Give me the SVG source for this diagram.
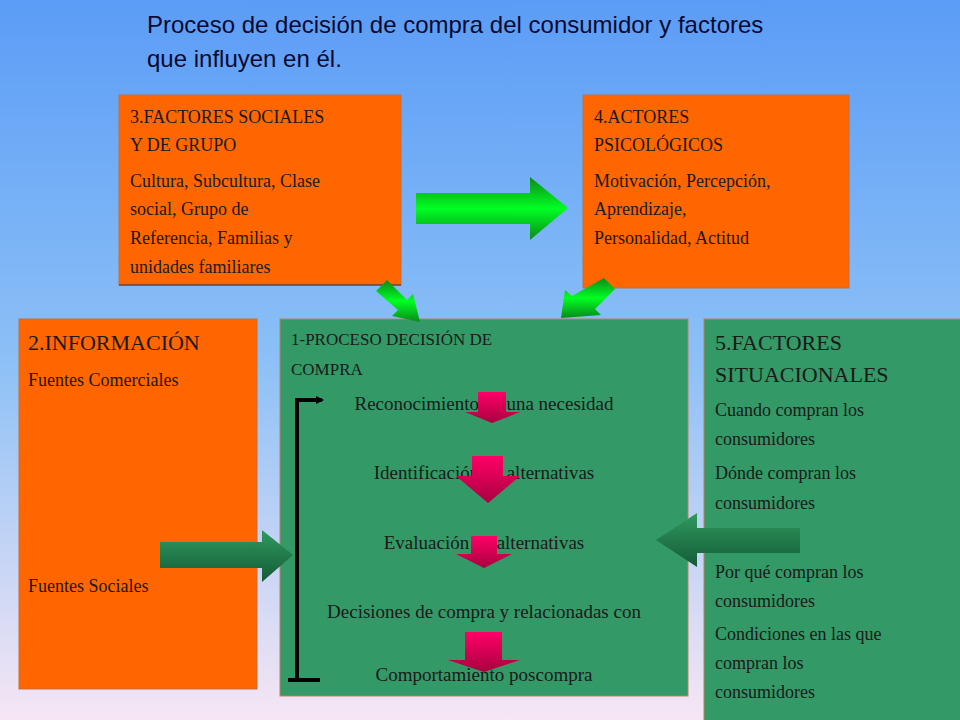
<svg xmlns="http://www.w3.org/2000/svg" width="960" height="720" viewBox="0 0 960 720">
<defs>
<linearGradient id="bg" x1="0" y1="0" x2="0" y2="1"><stop offset="0" stop-color="#5b9cf6"/><stop offset="0.5" stop-color="#8cc0f6"/><stop offset="1" stop-color="#f6e6f4"/></linearGradient>
<linearGradient id="gr" x1="0" y1="0" x2="0" y2="1"><stop offset="0" stop-color="#0a8a1a"/><stop offset="0.5" stop-color="#00ff22"/><stop offset="1" stop-color="#0a8a1a"/></linearGradient>
<linearGradient id="dg" x1="0" y1="0" x2="0" y2="1"><stop offset="0" stop-color="#2f9a5e"/><stop offset="1" stop-color="#145a38"/></linearGradient>
<linearGradient id="pk" x1="0" y1="0" x2="0" y2="1"><stop offset="0" stop-color="#ff0066"/><stop offset="1" stop-color="#a8003f"/></linearGradient>
<marker id="ah" markerWidth="8" markerHeight="8" refX="6" refY="4" orient="auto" markerUnits="userSpaceOnUse"><path d="M0,0 L8,4 L0,8 Z" fill="#000"/></marker>
<style>
.o{fill:#ff6600;stroke:#c07040;stroke-width:1}
.g{fill:#339966;stroke:#c08060;stroke-width:1}
text{font-family:"Liberation Serif",serif;fill:#1a1a1a}
.s{font-size:18px}
.b{font-size:22px}
.c{font-size:19px;text-anchor:middle}
</style>
</defs>
<rect width="960" height="720" fill="url(#bg)"/>
<g id="title"><text x="147" y="33" style="font-family:'Liberation Sans',sans-serif;font-size:24px;fill:#0a0a30">Proceso de decisión de compra del consumidor y factores</text><text x="147" y="67" style="font-family:'Liberation Sans',sans-serif;font-size:24px;fill:#0a0a30">que influyen en él.</text></g>
<g id="n3"><rect class="o" x="119" y="95" width="282" height="190"/><line x1="119" y1="285" x2="401" y2="285" stroke="#333"/>
<text class="s" x="130" y="123">3.FACTORES SOCIALES</text><text class="s" x="130" y="151">Y DE GRUPO</text><text class="s" x="130" y="187">Cultura, Subcultura, Clase</text><text class="s" x="130" y="215">social, Grupo de</text><text class="s" x="130" y="244">Referencia, Familias y</text><text class="s" x="130" y="273">unidades familiares</text></g>
<g id="n4"><rect class="o" x="583" y="95" width="266" height="193"/>
<text class="s" x="594" y="123">4.ACTORES</text><text class="s" x="594" y="151">PSICOLÓGICOS</text><text class="s" x="594" y="187">Motivación, Percepción,</text><text class="s" x="594" y="215">Aprendizaje,</text><text class="s" x="594" y="244">Personalidad, Actitud</text></g>
<g id="n2"><rect class="o" x="19" y="319" width="238" height="370"/>
<text class="b" x="28" y="350">2.INFORMACIÓN</text><text class="s" x="28" y="386">Fuentes Comerciales</text><text class="s" x="28" y="592">Fuentes Sociales</text></g>
<g id="n1"><rect class="g" x="280" y="319" width="408" height="377"/>
<text x="291" y="345" style="font-size:17px">1-PROCESO DECISIÓN DE</text><text x="291" y="375" style="font-size:17px">COMPRA</text>
<text class="c" x="484" y="410">Reconocimiento de una necesidad</text>
<text class="c" x="484" y="479">Identificación de alternativas</text>
<text class="c" x="484" y="549">Evaluación de alternativas</text>
<text class="c" x="484" y="618">Decisiones de compra y relacionadas con</text>
<text class="c" x="484" y="646">ellos</text>
<text class="c" x="484" y="681">Comportamiento poscompra</text></g>
<g id="n5"><rect class="g" x="704" y="319" width="260" height="405"/>
<text class="b" x="715" y="350">5.FACTORES</text><text class="b" x="715" y="382">SITUACIONALES</text>
<text class="s" x="715" y="416">Cuando compran los</text><text class="s" x="715" y="445">consumidores</text>
<text class="s" x="715" y="479"> Dónde compran los</text><text class="s" x="715" y="509">consumidores</text>
<text class="s" x="715" y="578">Por qué compran los</text><text class="s" x="715" y="607">consumidores</text>
<text class="s" x="715" y="640">Condiciones en las que</text><text class="s" x="715" y="669">compran los</text><text class="s" x="715" y="698">consumidores</text></g>
<g id="connectors">
<path d="M416,193 H530 V177 L568,208 L530,240 V224 H416 Z" fill="url(#gr)"/>
<path d="M376,291 L387,280 L407,300 L413,294 L420,322 L392,316 L398,310 Z" fill="url(#gr)"/>
<path d="M604,278 L615,289 L595,309 L601,315 L561,318 L565,290 L572,296 Z" fill="url(#gr)"/>
<path d="M160,542 H262 V530 L293,555 L262,582 V568 H160 Z" fill="url(#dg)"/>
<path d="M800,528 H697 V513 L656,540 L697,567 V553 H800 Z" fill="url(#dg)"/>
<path d="M478,392 H506 V412 H520 L492,423 L465,412 H478 Z" fill="url(#pk)"/>
<path d="M472,456 H503 V476 H520 L488,503 L456,476 H472 Z" fill="url(#pk)"/>
<path d="M471,536 H497 V554 H512 L484,568 L456,554 H471 Z" fill="url(#pk)"/>
<path d="M465,632 H502 V660 H520 L484,672 L448,660 H465 Z" fill="url(#pk)"/>
<path d="M288,680 H320 M297,680 V400 H322" fill="none" stroke="#000" stroke-width="4" marker-end="url(#ah)"/>
</g>
</svg>
